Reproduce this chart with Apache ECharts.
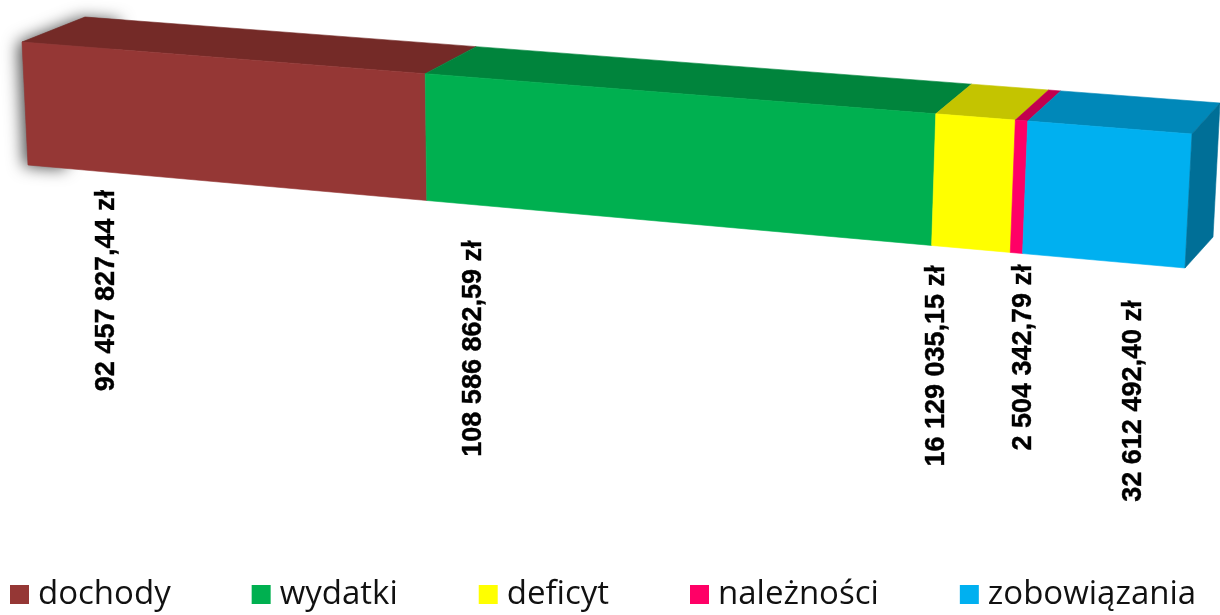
<!DOCTYPE html>
<html>
<head>
<meta charset="utf-8">
<script src="https://cdn.jsdelivr.net/npm/echarts@6/dist/echarts.min.js"></script>
<style>
  html, body { margin: 0; padding: 0; background: #fff; }
  #chart { width: 1220px; height: 615px; }
</style>
</head>
<body>
<div id="chart"></div>
<script>
// dane
const categories = ["dochody", "wydatki", "deficyt", "należności", "zobowiązania"];
const values = [92457827.44, 108586862.59, 16129035.15, 2504342.79, 32612492.4];

// kolory: przód / góra / bok
const frontColors = ["#953735", "#00B050", "#FFFF00", "#FF0066", "#00B0F0"];
const topColors = ["#742a27", "#00843c", "#c4c400", "#c2004e", "#0088b9"];
const sideColor = "#006f97";

// przesunięcia etykiet względem początku segmentu (px)
const labelDx = [79, 47, 5, 13, 111];
const labelDy = [25, 40, 20, 12, 47];

const total = values.reduce((a, b) => a + b, 0);
const starts = [];
values.reduce((acc, v) => { starts.push(acc); return acc + v; }, 0);

// perspektywa
const R = 1.1;
function persp(px, cs) {
  const t = (px - cs.x) / cs.width;
  return t / (R + (1 - R) * t);
}
function frontTop(f, cs) { return [cs.x + cs.width * f, cs.y + 92 * f]; }
function frontBottom(f, cs) { return [cs.x + 6 + (cs.width - 13) * f, cs.y + cs.height + 103 * f]; }
function depth(p, f) { return [p[0] + 63 - 35 * f, p[1] - 25 - 6 * f]; }

function fmt(v) {
  const parts = v.toFixed(2).split(".");
  return parts[0].replace(/\B(?=(\d{3})+(?!\d))/g, " ") + "," + parts[1] + " zł";
}

function makeRender(idx) {
  return function (params, api) {
    const cs = params.coordSys;
    const x0 = api.coord([api.value(0), 0])[0];
    const x1 = api.coord([api.value(1), 0])[0];
    const f0 = persp(x0, cs), f1 = persp(x1, cs);
    const ft0 = frontTop(f0, cs), ft1 = frontTop(f1, cs);
    const fb0 = frontBottom(f0, cs), fb1 = frontBottom(f1, cs);
    const bk0 = depth(ft0, f0), bk1 = depth(ft1, f1);
    const children = [];

    if (idx === 0) {
      // cień lewego końca
      children.push({
        type: "polygon",
        shape: { points: [bk0, [bk0[0] + 40, bk0[1] + 3], [fb0[0] + 40, fb0[1] + 3], fb0, ft0] },
        style: { fill: "#777", shadowBlur: 16, shadowColor: "rgba(0,0,0,0.7)", shadowOffsetX: -4, shadowOffsetY: 1 }
      });
    }
    children.push({
      type: "polygon",
      shape: { points: [ft0, ft1, bk1, bk0] },
      style: { fill: topColors[idx], stroke: topColors[idx], lineWidth: 0.6 }
    });
    children.push({
      type: "polygon",
      shape: { points: [ft0, ft1, fb1, fb0] },
      style: { fill: frontColors[idx], stroke: frontColors[idx], lineWidth: 0.6 }
    });
    if (idx === categories.length - 1) {
      children.push({
        type: "polygon",
        shape: { points: [ft1, bk1, depth(fb1, f1), fb1] },
        style: { fill: sideColor, stroke: sideColor, lineWidth: 0.6 }
      });
    }
    children.push({
      type: "text",
      x: fb0[0] + labelDx[idx],
      y: fb0[1] + labelDy[idx],
      rotation: Math.PI / 2,
      style: {
        text: fmt(api.value(2)),
        fill: "#000",
        font: "bold 27px 'Liberation Sans', Arial, sans-serif",
        align: "right",
        verticalAlign: "middle",
        stroke: "#000",
        lineWidth: 0.4
      }
    });
    return { type: "group", children: children };
  };
}

const chart = echarts.init(document.getElementById("chart"));
chart.setOption({
  animation: false,
  backgroundColor: "#fff",
  grid: { left: 22, right: 28, top: 42, bottom: 450 },
  xAxis: { type: "value", min: 0, max: total, show: false },
  yAxis: { type: "category", data: ["bilans"], show: false },
  legend: {
    data: categories,
    top: 578,
    left: 10,
    padding: 0,
    itemGap: 81,
    icon: "rect",
    itemWidth: 19,
    itemHeight: 19,
    textStyle: { fontFamily: "'Open Sans', sans-serif", fontSize: 33, color: "#111", padding: [0, 0, 0, 4] }
  },
  series: categories.map((name, i) => ({
    name: name,
    type: "custom",
    itemStyle: { color: frontColors[i] },
    encode: { x: [0, 1], y: 3 },
    data: [[starts[i], starts[i] + values[i], values[i], 0]],
    renderItem: makeRender(i)
  }))
});
</script>
</body>
</html>
